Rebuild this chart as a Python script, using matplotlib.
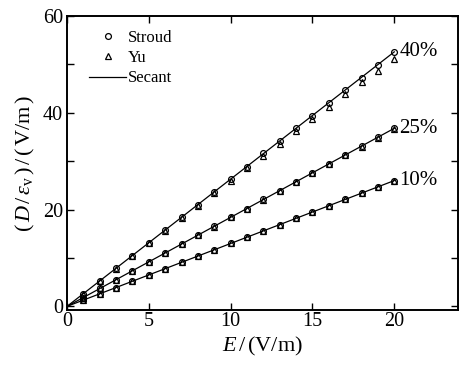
import matplotlib
matplotlib.use('Agg')
import matplotlib.pyplot as plt
from matplotlib.ticker import MultipleLocator

plt.rcParams['font.family'] = 'Liberation Serif'
plt.rcParams['mathtext.fontset'] = 'custom'
plt.rcParams['mathtext.rm'] = 'Liberation Serif'
plt.rcParams['mathtext.it'] = 'Liberation Serif:italic'

# field strength E (V/m)
E = [1, 2, 3, 4, 5, 6, 7, 8, 9, 10, 11, 12, 13, 14, 15, 16, 17, 18, 19, 20]
E_line = [0, 20]

# Stroud
stroud_40 = [2.6, 5.3, 7.9, 10.5, 13.1, 15.8, 18.4, 21.0, 23.7, 26.3,
             28.9, 31.6, 34.2, 36.8, 39.4, 42.1, 44.7, 47.3, 49.9, 52.6]
stroud_25 = [1.8, 3.7, 5.5, 7.4, 9.2, 11.0, 12.9, 14.7, 16.6, 18.4,
             20.2, 22.1, 23.9, 25.8, 27.6, 29.4, 31.3, 33.1, 35.0, 36.8]
stroud_10 = [1.3, 2.6, 3.9, 5.2, 6.5, 7.8, 9.1, 10.4, 11.7, 13.0,
             14.3, 15.6, 16.9, 18.2, 19.5, 20.8, 22.1, 23.4, 24.7, 26.0]

# Yu
yu_40 = [2.6, 5.2, 7.8, 10.4, 13.0, 15.6, 18.2, 20.8, 23.4, 25.9,
         28.5, 31.1, 33.6, 36.2, 38.7, 41.3, 43.8, 46.3, 48.7, 51.1]
yu_25 = [1.8, 3.7, 5.5, 7.4, 9.2, 11.0, 12.9, 14.7, 16.5, 18.4,
         20.2, 22.0, 23.9, 25.7, 27.5, 29.4, 31.2, 33.0, 34.9, 36.7]
yu_10 = [1.3, 2.6, 3.9, 5.2, 6.5, 7.8, 9.1, 10.4, 11.7, 13.0,
         14.3, 15.6, 16.9, 18.2, 19.5, 20.8, 22.1, 23.4, 24.7, 26.0]

# secant curves (end values)
secant_40 = [0, 52.6]
secant_25 = [0, 36.8]
secant_10 = [0, 26.0]

labels = ['40%', '25%', '10%']

fig = plt.figure(figsize=(4.59, 3.65), dpi=100)
ax = fig.add_axes([0.146, 0.150, 0.852, 0.806])

mk = dict(markersize=4.2, markerfacecolor='none', markeredgecolor='black',
          markeredgewidth=0.9, linestyle='none')
for s, y in zip([stroud_40, stroud_25, stroud_10],
                [secant_40, secant_25, secant_10]):
    ax.plot(E_line, y, color='black', lw=0.9)
    ax.plot(E, s, marker='o', **mk)
for yv in [yu_40, yu_25, yu_10]:
    ax.plot(E, yv, marker='^', **mk)

for y, lab in zip([secant_40, secant_25, secant_10], labels):
    ax.text(20.3, y[1], lab, fontsize=15, va='center', ha='left')

# legend
h1, = ax.plot([], [], marker='o', **mk)
h2, = ax.plot([], [], marker='^', **mk)
h3, = ax.plot([], [], color='black', lw=0.9)
ax.legend([h1, h2, h3], ['Stroud', 'Yu', 'Secant'], loc='upper left',
          frameon=False, fontsize=12, handlelength=2.2, handletextpad=0.1,
          labelspacing=0.25, borderaxespad=0.0, bbox_to_anchor=(0.04, 0.975))

ax.set_xlim(0, 23.9)
ax.set_ylim(-0.8, 60)
ax.xaxis.set_major_locator(MultipleLocator(5))
ax.yaxis.set_major_locator(MultipleLocator(20))
ax.yaxis.set_minor_locator(MultipleLocator(10))
ax.tick_params(which='both', direction='in', top=True, right=True,
               labelsize=14.5, width=1)
ax.tick_params(axis='x', pad=1)
ax.tick_params(axis='y', pad=3)
ax.tick_params(which='major', length=5)
ax.tick_params(which='minor', length=5)
for sp in ax.spines.values():
    sp.set_linewidth(1.4)

ax.set_xlabel(r'$E\,/\,(\mathrm{V/m})$', fontsize=16, labelpad=3)
ax.set_ylabel(r'$(\,D\,/\,\varepsilon_{\mathrm{v}}\,)\,/\,(\,\mathrm{V/m}\,)$',
              fontsize=16, labelpad=4)

fig.savefig('out.png', dpi=100)
